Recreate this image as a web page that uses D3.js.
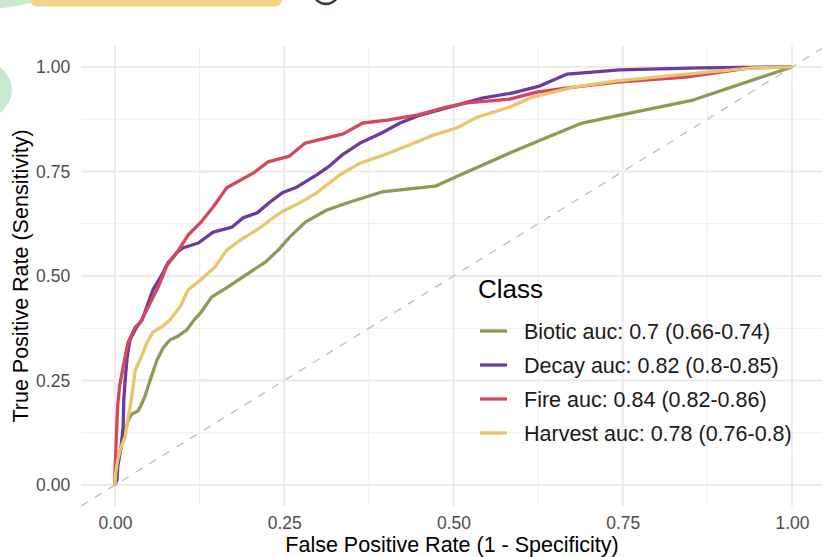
<!DOCTYPE html>
<html>
<head>
<meta charset="utf-8">
<script src="https://cdn.jsdelivr.net/npm/d3@7"></script>
<style>
  body { margin: 0; background: #fff; }
  svg { display: block; font-family: "Liberation Sans", Arial, sans-serif; }
</style>
</head>
<body>
<div id="roc"></div>
<script>
// ROC curves, one per class
const classes = ["Biotic", "Decay", "Fire", "Harvest"];
const legendLabels = [
    "Biotic auc: 0.7 (0.66-0.74)",
    "Decay auc: 0.82 (0.8-0.85)",
    "Fire auc: 0.84 (0.82-0.86)",
    "Harvest auc: 0.78 (0.76-0.8)"
];
const colors = ["#8a9b55", "#6b3ba0", "#d5475a", "#e9c46a"];

// [fpr, tpr]
const biotic = [[0,0],[0.001,0.019],[0.004,0.053],[0.009,0.091],[0.015,0.132],[0.021,0.160],[0.025,0.170],
    [0.034,0.177],[0.038,0.189],[0.044,0.211],[0.052,0.251],[0.062,0.299],[0.071,0.328],[0.081,0.347],
    [0.093,0.356],[0.106,0.371],[0.117,0.395],[0.126,0.411],[0.143,0.450],[0.167,0.474],[0.189,0.498],
    [0.222,0.533],[0.241,0.562],[0.258,0.593],[0.281,0.629],[0.313,0.658],[0.347,0.677],[0.394,0.701],
    [0.473,0.715],[0.499,0.734],[0.583,0.794],[0.628,0.825],[0.690,0.866],[0.746,0.885],[0.854,0.921],[1,1]];
const decay = [[0,0],[0.003,0.012],[0.004,0.043],[0.009,0.091],[0.012,0.139],[0.013,0.203],[0.015,0.251],
    [0.018,0.306],[0.022,0.347],[0.032,0.378],[0.040,0.395],[0.047,0.426],[0.056,0.467],[0.069,0.502],
    [0.078,0.531],[0.092,0.557],[0.100,0.567],[0.123,0.579],[0.145,0.605],[0.173,0.617],[0.189,0.639],
    [0.210,0.651],[0.229,0.677],[0.247,0.699],[0.269,0.713],[0.298,0.742],[0.315,0.761],[0.335,0.789],
    [0.362,0.818],[0.394,0.842],[0.421,0.866],[0.451,0.885],[0.490,0.902],[0.544,0.926],[0.588,0.938],
    [0.628,0.955],[0.668,0.983],[0.746,0.993],[0.864,0.998],[1,1]];
const fire = [[0,0],[0,0.036],[0.001,0.072],[0.003,0.156],[0.004,0.191],[0.007,0.239],[0.012,0.282],
    [0.019,0.340],[0.030,0.378],[0.037,0.388],[0.049,0.426],[0.064,0.474],[0.077,0.526],[0.092,0.557],
    [0.108,0.598],[0.126,0.627],[0.145,0.665],[0.165,0.711],[0.204,0.746],[0.226,0.773],[0.258,0.787],
    [0.281,0.818],[0.307,0.828],[0.337,0.840],[0.366,0.866],[0.402,0.873],[0.446,0.885],[0.490,0.904],
    [0.520,0.914],[0.583,0.923],[0.623,0.940],[0.668,0.950],[0.742,0.964],[0.843,0.976],[0.938,0.998],[1,1]];
const harvest = [[0,0],[0.001,0.029],[0.004,0.060],[0.009,0.091],[0.015,0.115],[0.019,0.156],[0.024,0.203],
    [0.030,0.275],[0.037,0.299],[0.047,0.340],[0.056,0.366],[0.069,0.378],[0.081,0.395],[0.096,0.426],
    [0.108,0.467],[0.126,0.490],[0.148,0.522],[0.165,0.562],[0.185,0.586],[0.214,0.615],[0.229,0.634],
    [0.248,0.655],[0.273,0.675],[0.298,0.699],[0.332,0.742],[0.362,0.770],[0.396,0.789],[0.431,0.811],
    [0.470,0.837],[0.505,0.854],[0.535,0.880],[0.583,0.904],[0.617,0.928],[0.677,0.952],[0.742,0.967],
    [0.864,0.986],[0.942,0.998],[1,1]];
const curves = [biotic, decay, fire, harvest];

const ticks = [0, 0.25, 0.5, 0.75, 1];
const minorTicks = [0.125, 0.375, 0.625, 0.875];

const W = 822, H = 557;

const svg = d3.select("#roc").append("svg")
    .attr("width", W)
    .attr("height", H);

// bits of the surrounding page that show in the screenshot
svg.append("ellipse").attr("cx", -40).attr("cy", -40).attr("rx", 130).attr("ry", 51).attr("fill", "#c8e8d2");
svg.append("ellipse").attr("cx", -60).attr("cy", 90).attr("rx", 72).attr("ry", 42).attr("fill", "#c8e8d2");
svg.append("rect").attr("x", 30).attr("y", -30).attr("width", 252).attr("height", 36.5).attr("rx", 7).attr("fill", "#f1d589");
svg.append("circle").attr("cx", 326).attr("cy", -9).attr("r", 13).attr("fill", "none").attr("stroke", "#2f3d47").attr("stroke-width", 2.4);

// ggplot expands the 0..1 range by 5% either side
const x = d3.scaleLinear().domain([0, 1]).range([115, 792]);
const y = d3.scaleLinear().domain([0, 1]).range([485, 67]);
const xLo = x(-0.05), xHi = x(1.05), yLo = y(-0.05), yHi = y(1.05);

const grid = svg.append("g");
grid.selectAll(".minor-x").data(minorTicks).enter().append("line")
    .attr("x1", d => x(d)).attr("x2", d => x(d)).attr("y1", yLo).attr("y2", yHi)
    .attr("stroke", "#ededed").attr("stroke-width", 1);
grid.selectAll(".minor-y").data(minorTicks).enter().append("line")
    .attr("y1", d => y(d)).attr("y2", d => y(d)).attr("x1", xLo).attr("x2", xHi)
    .attr("stroke", "#ededed").attr("stroke-width", 1);
grid.selectAll(".major-x").data(ticks).enter().append("line")
    .attr("x1", d => x(d)).attr("x2", d => x(d)).attr("y1", yLo).attr("y2", yHi)
    .attr("stroke", "#ebebeb").attr("stroke-width", 2);
grid.selectAll(".major-y").data(ticks).enter().append("line")
    .attr("y1", d => y(d)).attr("y2", d => y(d)).attr("x1", xLo).attr("x2", xHi)
    .attr("stroke", "#ebebeb").attr("stroke-width", 2);

// reference diagonal
svg.append("line")
    .attr("x1", x(-0.05)).attr("y1", y(-0.05))
    .attr("x2", x(1.05)).attr("y2", y(1.05))
    .attr("stroke", "#bdbdbd").attr("stroke-width", 1.3)
    .attr("stroke-dasharray", "8,8");

// axes (text only, like theme_minimal)
const xAxis = svg.append("g")
    .attr("transform", "translate(0," + (yLo + 3) + ")")
    .call(d3.axisBottom(x).tickValues(ticks).tickFormat(d3.format(".2f")).tickSize(0).tickPadding(8));
const yAxis = svg.append("g")
    .attr("transform", "translate(" + (xLo - 4) + ",0)")
    .call(d3.axisLeft(y).tickValues(ticks).tickFormat(d3.format(".2f")).tickSize(0).tickPadding(7));
[xAxis, yAxis].forEach(function(a){
    a.select(".domain").remove();
    a.selectAll("text").attr("fill", "#4d4d4d")
        .attr("font-size", 17.5)
        .attr("font-family", "'Liberation Sans', Arial, sans-serif");
});

svg.append("text")
    .attr("x", 452).attr("y", 552)
    .attr("text-anchor", "middle")
    .attr("font-size", 21.5)
    .text("False Positive Rate (1 - Specificity)");
svg.append("text")
    .attr("transform", "translate(28," + ((yLo + yHi) / 2) + ") rotate(-90)")
    .attr("text-anchor", "middle")
    .attr("font-size", 21.5)
    .text("True Positive Rate (Sensitivity)");

// curves
const line = d3.line().x(d => x(d[0])).y(d => y(d[1]));
svg.selectAll(".roc").data(curves).enter().append("path")
    .attr("class", "roc")
    .attr("d", line)
    .attr("fill", "none")
    .attr("stroke", (d, i) => colors[i])
    .attr("stroke-width", 3.3)
    .attr("stroke-linejoin", "round");

// legend
const legend = svg.append("g").attr("transform", "translate(478,0)");
legend.append("text").attr("x", 0).attr("y", 298)
    .attr("font-size", 26).text("Class");
const items = legend.selectAll(".item").data(classes).enter().append("g")
    .attr("transform", (d, i) => "translate(0," + (331 + i * 34) + ")");
items.append("line")
    .attr("x1", 2).attr("x2", 29).attr("y1", 0).attr("y2", 0)
    .attr("stroke", (d, i) => colors[i]).attr("stroke-width", 3.3);
items.append("text")
    .attr("x", 46).attr("y", 0).attr("dy", "0.36em")
    .attr("font-size", 21.5).attr("fill", "#1a1a1a")
    .text((d, i) => legendLabels[i]);
</script>
</body>
</html>
